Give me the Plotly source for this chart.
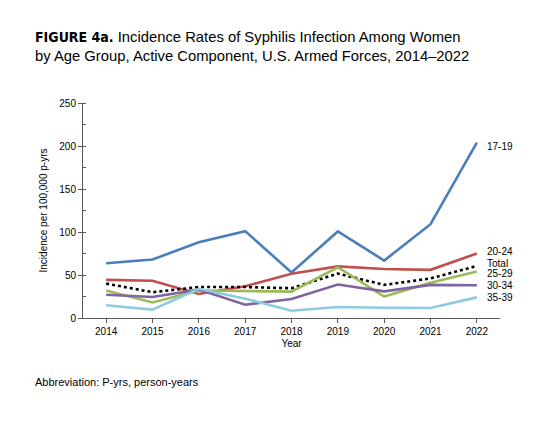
import plotly.graph_objects as go

# Data (rate per 100,000 person-years)
years = [2014, 2015, 2016, 2017, 2018, 2019, 2020, 2021, 2022]
age_17_19 = [63.6, 68.0, 88.0, 101.0, 53.0, 100.6, 66.8, 109.0, 204.0]
age_20_24 = [44.3, 43.3, 28.0, 37.0, 51.5, 60.0, 57.0, 56.0, 75.0]
total = [40.0, 30.0, 36.0, 36.0, 34.6, 51.7, 38.5, 46.0, 60.5]
age_25_29 = [32.0, 18.0, 32.0, 31.0, 30.7, 59.0, 25.0, 41.0, 54.0]
age_30_34 = [27.0, 24.5, 33.0, 15.5, 22.0, 39.0, 31.0, 38.5, 38.0]
age_35_39 = [14.8, 9.7, 34.0, 22.5, 8.5, 12.8, 12.0, 11.7, 24.0]

series_names = ["17-19", "20-24", "Total", "25-29", "30-34", "35-39"]
series_values = [age_17_19, age_20_24, total, age_25_29, age_30_34, age_35_39]
colors = ["#4A7EBB", "#C0504D", "#000000", "#9BBB59", "#8064A2", "#8CCCDE"]
dashes = ["solid", "solid", "dot", "solid", "solid", "solid"]
# small vertical nudges so the end labels don't overlap
label_nudge = [-4, 2, 3, -2, 0, 0]

FONT = "Liberation Sans, Arial"

# the page body has an 8px margin, so the figure is drawn 8px in from the corner
OFF = 8
W, H = 550 - OFF, 421 - OFF
ml, mt = 83 - OFF, 103 - OFF
pw, ph = 417, 215
mr, mb = W - ml - pw, H - mt - ph


def px_x(x):
    # page pixel -> paper coordinate
    return (x - OFF - ml) / pw


def px_y(y):
    return (mt + ph - (y - OFF)) / ph


fig = go.Figure()

for name, vals, col, dash in zip(series_names, series_values, colors, dashes):
    fig.add_trace(go.Scatter(
        x=years, y=vals, mode="lines", name=name,
        line=dict(color=col, width=2.6, dash=dash),
        showlegend=False,
    ))

# labels at the end of each line
for name, vals, nudge in zip(series_names, series_values, label_nudge):
    fig.add_annotation(
        x=years[-1], y=vals[-1] + nudge, xref="x", yref="y",
        text=name, showarrow=False, xanchor="left", xshift=8,
        font=dict(family=FONT, size=10, color="#000000"),
    )

# title
fig.add_annotation(
    x=px_x(33), y=px_y(46), xref="paper", yref="paper", showarrow=False,
    xanchor="left", yanchor="middle", align="left",
    text=("<span style='font-family:\"Liberation Sans Narrow\", \"DejaVu Sans Condensed\"; font-size:14px'>"
          "<b>FIGURE 4a.</b></span> Incidence Rates of Syphilis Infection Among Women"
          "<br>by Age Group, Active Component, U.S. Armed Forces, 2014–2022"),
    font=dict(family=FONT, size=14.8, color="#000000"),
)

# footnote
fig.add_annotation(
    x=px_x(33), y=px_y(382), xref="paper", yref="paper", showarrow=False,
    xanchor="left", yanchor="middle",
    text="Abbreviation: P-yrs, person-years",
    font=dict(family=FONT, size=11, color="#000000"),
)

fig.update_layout(
    width=W, height=H,
    margin=dict(l=ml, r=mr, t=mt, b=mb),
    paper_bgcolor="white", plot_bgcolor="white",
    font=dict(family=FONT, size=10, color="#000000"),
    xaxis=dict(
        range=[2013.5, 2022.5], tickvals=years, ticktext=[str(y) for y in years],
        showline=True, linecolor="#595959", linewidth=1,
        ticks="outside", ticklen=4, tickcolor="#595959",
        showgrid=False, zeroline=False, automargin=False,
        title=dict(text="Year", font=dict(size=10), standoff=3),
        tickfont=dict(size=10),
    ),
    yaxis=dict(
        range=[0, 250], dtick=50,
        showline=True, linecolor="#595959", linewidth=1,
        ticks="outside", ticklen=4, tickcolor="#595959",
        minor=dict(dtick=25, ticks="inside", ticklen=3, tickcolor="#595959"),
        showgrid=False, zeroline=False, automargin=False,
        title=dict(text="Incidence per 100,000 p-yrs", font=dict(size=10), standoff=9),
        tickfont=dict(size=10),
    ),
)

fig.write_html("out.html")
